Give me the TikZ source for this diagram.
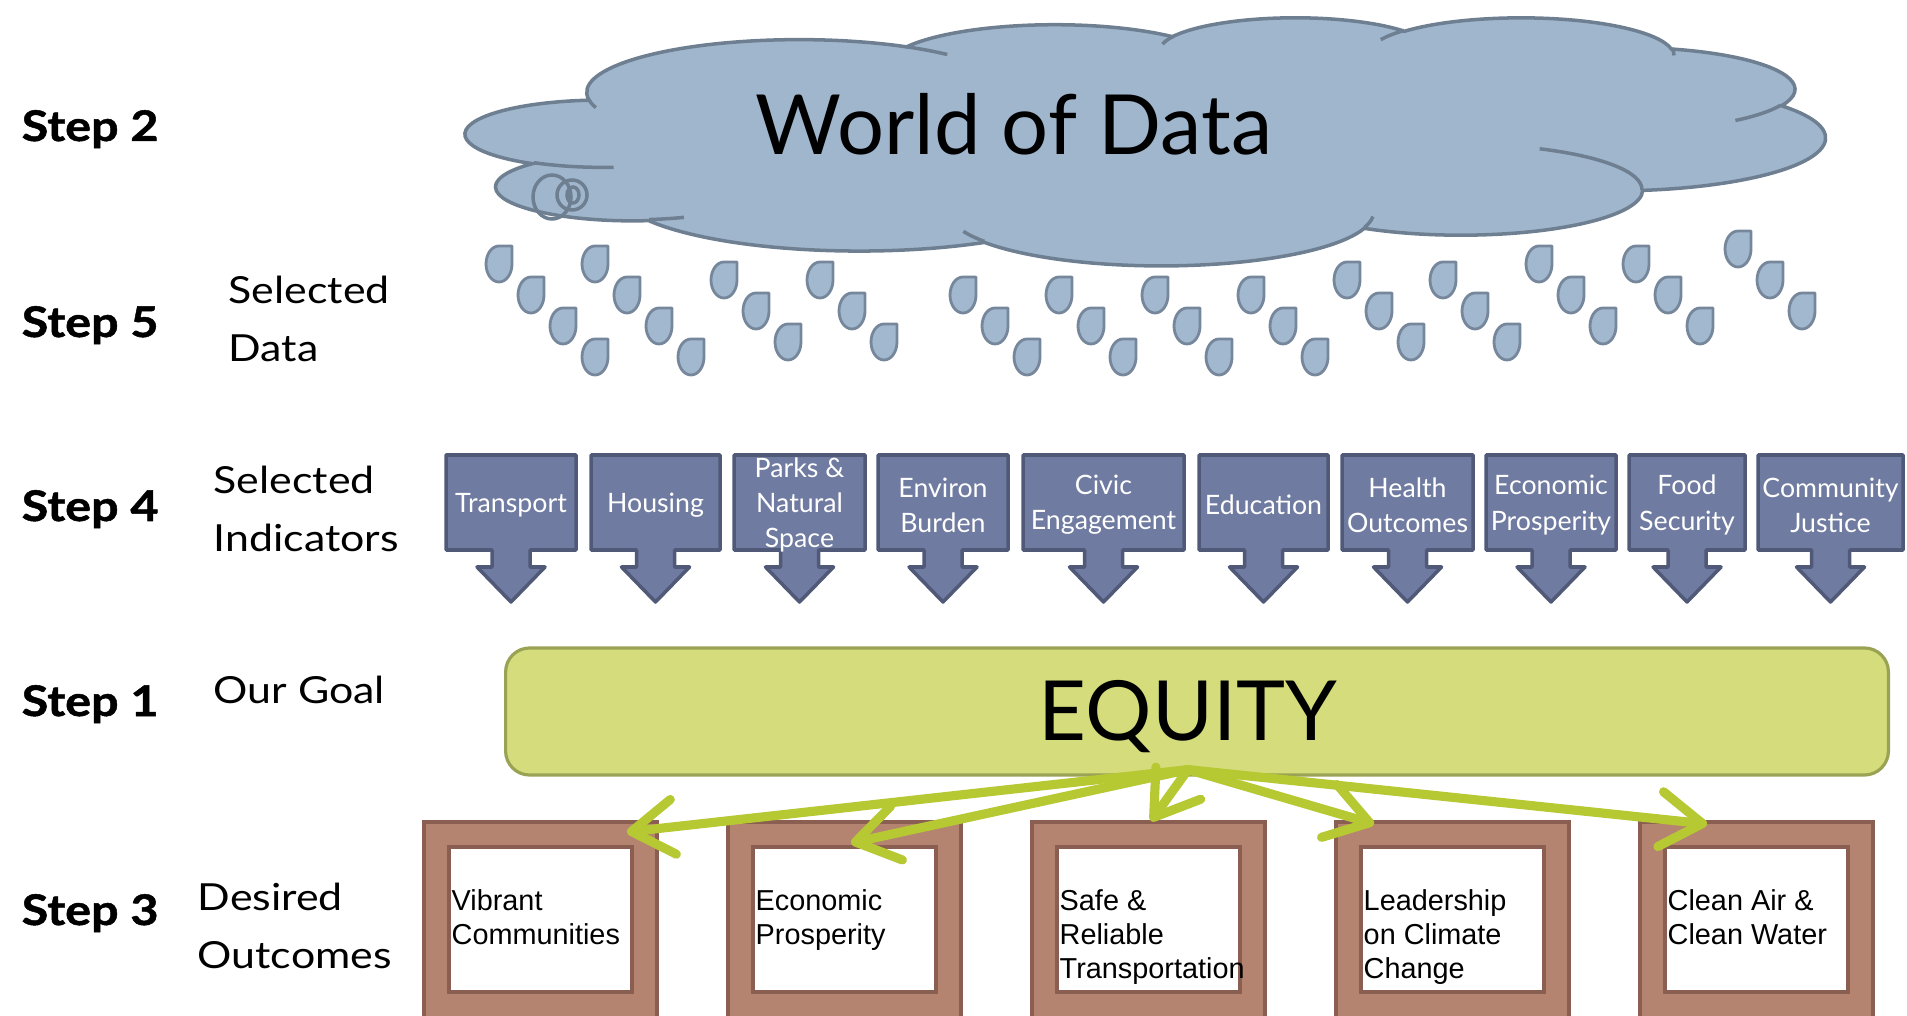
\documentclass[tikz,border=0pt]{standalone}
\usepackage{fontspec}
\setmainfont{Lato}
\newfontfamily\gillfont{Lato}
\newfontfamily\labfont{Lato}[FakeStretch=1.15]
\newfontfamily\stepfont{Lato}[FakeStretch=1.15, FakeBold=1.2]
\newfontfamily\arialfont{Liberation Sans}
\usetikzlibrary{arrows.meta,calc}
\definecolor{cloudfill}{HTML}{A0B6CD}
\definecolor{cloudedge}{HTML}{6E7F92}
\definecolor{dropfill}{HTML}{A2B8CE}
\definecolor{dropedge}{HTML}{76879B}
\definecolor{indfill}{HTML}{6F7BA0}
\definecolor{indedge}{HTML}{505A78}
\definecolor{goalfill}{HTML}{D4DC7C}
\definecolor{goaledge}{HTML}{9AA254}
\definecolor{linkgreen}{HTML}{B6C832}
\definecolor{framefill}{HTML}{B58470}
\definecolor{frameedge}{HTML}{8A5F52}
% elliptic arc given with visual angles
\newcommand\cloudarc[4]{arc[x radius=#1, y radius=#2,
  start angle={atan2((#1)*sin(#3),(#2)*cos(#3))},
  delta angle={mod(atan2((#1)*sin((#3)+(#4)),(#2)*cos((#3)+(#4)))-atan2((#1)*sin(#3),(#2)*cos(#3))+720,360)}]}
\tikzset{
  steplab/.style={anchor=base west, inner sep=0pt, font=\stepfont\bfseries\fontsize{12}{14}\selectfont},
  desc/.style={anchor=north west, inner sep=0pt, align=left, font=\labfont\fontsize{10.6}{16.5}\selectfont},
  cloudbody/.style={fill=cloudfill, draw=cloudedge, line width=1pt},
  cloudline/.style={draw=cloudedge, line width=1pt},
  dropline/.style={fill=dropfill, draw=dropedge, line width=0.8pt, line join=round},
  drop/.pic={\draw[dropline] (0,-18) -- (13,-18) -- (13,0) arc[start angle=0, end angle=270, x radius=13, y radius=18] -- cycle;},
  indshape/.style={fill=indfill, draw=indedge, line width=1pt, line join=round},
  indtext/.style={text=white, align=center, inner sep=0pt, font=\gillfont\fontsize{7.6}{10}\selectfont},
  goalbox/.style={fill=goalfill, draw=goaledge, line width=0.9pt, rounded corners=0.24cm,
    minimum width=13.82cm, minimum height=1.27cm},
  bigword/.style={anchor=base, inner sep=0pt, font=\gillfont\fontsize{23.6}{28}\selectfont},
  link/.style={draw=linkgreen, line width=2.6pt, line cap=round,
    -{Straight Barb[length=0.42cm, width=0.55cm, line cap=round, line join=round]}},
  outframe/.style={fill=framefill, draw=frameedge, line width=0.9pt},
  outinner/.style={fill=white, draw=frameedge, line width=0.9pt},
  outtext/.style={anchor=north west, inner sep=0pt, align=left, font=\arialfont\fontsize{8.2}{9.7}\selectfont},
}

\begin{document}
\begin{tikzpicture}[x=0.01cm, y=-0.01cm]
  \useasboundingbox (0,0) rectangle (1907,1016);
  \clip (0,0) rectangle (1907,1016);

  % cloud
  \begin{scope}[shift={(466,17)}, xscale=3.1458, yscale=0.5741]
    \filldraw[cloudbody] (39,143.7)
      \cloudarc{67.53}{91.90}{-190.4875}{123.7805}
      \cloudarc{53.33}{72.67}{-144.1024}{89.9452}
      \cloudarc{43.65}{59.45}{-145.8079}{99.7230}
      \cloudarc{48.57}{65.95}{-130.9861}{117.2417}
      \cloudarc{53.33}{72.73}{-78.7089}{109.0269}
      \cloudarc{67.75}{92.20}{-46.2673}{130.2690}
      \cloudarc{57.85}{78.67}{0.6250}{114.0333}
      \cloudarc{67.52}{92.15}{22.4516}{115.1726}
      \cloudarc{77.20}{105.43}{66.2426}{75.7110}
      \cloudarc{43.60}{59.18}{-274.9421}{146.7356}
      \cloudarc{43.45}{59.45}{-246.8285}{152.5189} -- cycle;
    \draw[cloudline]
      (46.93,261.77) \cloudarc{43.45}{59.45}{86.742}{26.4295}
      (69.28,348.99) \cloudarc{43.60}{59.18}{73.6105}{11.4475}
      (164.78,390.90) \cloudarc{67.52}{92.15}{137.6242}{14.0811}
      (288.27,347.51) \cloudarc{67.52}{92.15}{6.4533}{15.9984}
      (341.29,229.54) \cloudarc{57.85}{78.67}{-70.2924}{70.9174}
      (417.98,153.54) \cloudarc{53.33}{72.73}{30.3180}{27.7515}
      (383.24,54.26) \cloudarc{48.57}{65.95}{-13.7443}{14.8589}
      (290.78,39.52) \cloudarc{48.57}{65.95}{-149.1815}{18.1954}
      (221.41,47.20) \cloudarc{43.65}{59.45}{-163.4943}{17.6864}
      (140.00,51.92) \cloudarc{67.53}{91.90}{-66.7070}{12.3194}
      (41.27,157.89) \cloudarc{67.53}{91.90}{157.6544}{11.8582};
  \end{scope}
  \draw[cloudline] (552,197) ellipse[x radius=19, y radius=22]
    (572,195) ellipse[x radius=15, y radius=15]
    (573,195) ellipse[x radius=6, y radius=8];
  \node[bigword] (world) at (1014,155) {World of Data};

  % rain
  \foreach \x/\y/\n in {499/264/4, 595/264/4, 724/280/3, 820/280/3, 963/295/3, 1059/295/3,
      1155/295/3, 1251/295/3, 1347/280/3, 1443/280/3, 1539/264/3, 1636/264/3, 1738/249/3}
    \foreach \k in {1,...,\n}
      \pic at ({\x+32*(\k-1)},{\y+31*(\k-1)}) {drop};

  % left column
  \node[steplab] (step2) at (21,141) {Step 2};
  \node[steplab] (step5) at (21,337) {Step 5};
  \node[steplab] (step4) at (21,521) {Step 4};
  \node[steplab] (step1) at (21,716) {Step 1};
  \node[steplab] (step3) at (21,925) {Step 3};
  \node[desc] (data) at (228,275) {Selected\\Data};
  \node[desc] (indic) at (213,465) {Selected\\Indicators};
  \node[desc, anchor=base west] (goaltxt) at (213,703) {Our Goal};
  \node[desc] (outc) at (197,882) {Desired\\Outcomes};

  % indicators
  \foreach \l/\r/\txt [count=\i] in {446/576/Transport, 591/720/Housing, 734/865/{Parks \&\\Natural\\Space},
      878/1008/{Environ\\Burden}, 1023/1184/{Civic\\Engagement}, 1199/1328/Education,
      1342/1473/{Health\\Outcomes}, 1486/1616/{Economic\\Prosperity}, 1629/1745/{Food\\Security},
      1758/1903/{Community\\Justice}} {
    \draw[indshape] (\l,455) -- (\r,455) -- (\r,550) -- ({(\l+\r)/2+19},550) -- ++(0,17) -- ++(15,0)
      -- ({(\l+\r)/2},602) -- ({(\l+\r)/2-34},567) -- ++(15,0) -- ++(0,-17) -- (\l,550) -- cycle;
    \node[indtext] (ind\i) at ({(\l+\r)/2},505) {\txt};
  }

  % goal
  \node[goalbox] (equity) at (1197,711.5) {};
  \node[bigword] (goalword) at (1188,740) {EQUITY};

  % outcomes
  \foreach \x/\txt [count=\i] in {424/{Vibrant\\Communities}, 728/{Economic\\Prosperity},
      1032/{Safe \&\\Reliable\\Transportation}, 1336/{Leadership\\on Climate\\Change},
      1640/{Clean Air \&\\Clean Water}} {
    \draw[outframe] (\x,822) rectangle ++(233,230);
    \draw[outinner] ({\x+25},847) rectangle ++(183,145);
    \node[outtext] (out\i) at ({\x+27},889) {\txt};
  }

  \coordinate (hub) at ($(equity.south)+(-9,-7)$);
  \coordinate (t1) at (627,832);
  \coordinate (t2) at (851,843);
  \coordinate (t3) at (1151,821);
  \coordinate (t4) at (1374,824);
  \coordinate (t5) at (1707,824);
  \foreach \t in {1,...,5}
    \draw[link] (hub) -- (t\t);
\end{tikzpicture}
\end{document}
